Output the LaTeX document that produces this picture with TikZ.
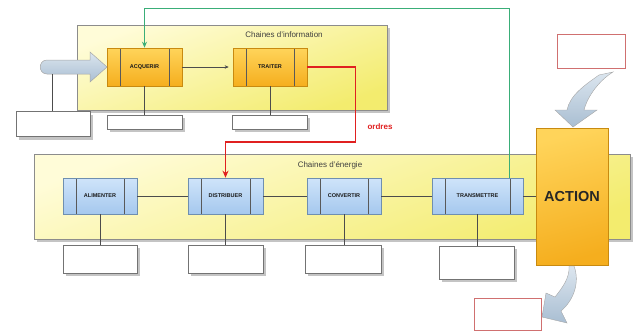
\documentclass[tikz,border=0pt]{standalone}
\usepackage{fontspec}
\setmainfont{Liberation Sans}
\usetikzlibrary{arrows.meta,calc}
\definecolor{chainY1}{HTML}{FFFCD8}
\definecolor{chainY2}{HTML}{F3EC6E}
\definecolor{orA}{HTML}{FFD45A}
\definecolor{orB}{HTML}{F5AE1E}
\definecolor{orD}{HTML}{C88A10}
\definecolor{blA}{HTML}{CFE4FA}
\definecolor{blB}{HTML}{A5C8EE}
\definecolor{blD}{HTML}{6F8FB0}
\definecolor{redC}{HTML}{E02020}
\definecolor{redBox}{HTML}{D07070}
\definecolor{grnC}{HTML}{3AAE78}
\definecolor{arrA}{HTML}{DCE6EF}
\definecolor{arrB}{HTML}{A9BED2}
\definecolor{txtG}{HTML}{404040}
\definecolor{shadC}{HTML}{C4C4C4}
\tikzset{
  shad/.style={preaction={fill=shadC,draw=none,transform canvas={xshift=3pt,yshift=-3pt}}},
  chainbox/.style={draw=black!45,line width=0.7pt,top color=chainY1,bottom color=chainY2,shading angle=20,shad,minimum height=85pt,inner sep=0pt},
  blockbase/.style={line width=0.6pt,minimum height=38pt,inner sep=0pt,font=\fontsize{5.5}{5.5}\selectfont\bfseries,text=black!90,
    path picture={\draw[line width=0.5pt,black!65]
      ([xshift=13pt]path picture bounding box.north west) -- ([xshift=13pt]path picture bounding box.south west)
      ([xshift=-13pt]path picture bounding box.north east) -- ([xshift=-13pt]path picture bounding box.south east);}},
  orblock/.style={blockbase,draw=orD,top color=orA,bottom color=orB},
  blblock/.style={blockbase,draw=blD,top color=blA,bottom color=blB,minimum height=36pt},
  wbox/.style={draw=black!55,line width=0.7pt,fill=white,shad,inner sep=0pt},
  rbox/.style={draw=redBox,line width=0.8pt,fill=white,inner sep=0pt},
  link/.style={draw=black!70,line width=0.6pt},
  bigarrow/.style={draw=black!35,line width=0.5pt,top color=arrA,bottom color=arrB},
  title/.style={font=\fontsize{8}{8}\selectfont,text=txtG}
}
\begin{document}
\begin{tikzpicture}[x=1pt,y=-1pt]
\useasboundingbox (0,0) rectangle (637,332);

% chain frames
\node[chainbox,minimum width=310pt] (info) at (232,67.5) {};
\node[title] (infot) at (284,35) {Chaines d'information};
\node[chainbox,minimum width=596pt] (ener) at (332,196.5) {};
\node[title] (enert) at (330,165) {Chaines d'énergie};

% information blocks
\node[orblock,minimum width=75pt] (acq) at (144.5,67) {ACQUERIR};
\node[orblock,minimum width=74pt] (tra) at (270,67) {TRAITER};

% energy blocks
\node[blblock,minimum width=74pt] (ali) at (100,196) {ALIMENTER};
\node[blblock,minimum width=75pt] (dis) at (225.5,196) {DISTRIBUER};
\node[blblock,minimum width=74pt] (con) at (344,196) {CONVERTIR};
\node[blblock,minimum width=91pt] (trm) at (477.5,196) {TRANSMETTRE};

% action
\node[draw=orD,line width=0.6pt,top color=orA,bottom color=orB,shading angle=15,minimum width=72pt,minimum height=137pt,inner sep=0pt,
  font=\fontsize{14.5}{14.5}\selectfont\bfseries,text=black!85] (act) at (572,196.5) {ACTION};

% white boxes
\node[wbox,minimum width=74pt,minimum height=25pt] (b1) at (53,124) {};
\node[wbox,minimum width=75pt,minimum height=14pt] (b2) at (144.5,122) {};
\node[wbox,minimum width=75pt,minimum height=14pt] (b3) at (269.5,122) {};
\node[wbox,minimum width=74pt,minimum height=28pt] (b4) at (100,259) {};
\node[wbox,minimum width=75pt,minimum height=28pt] (b5) at (225.5,259) {};
\node[wbox,minimum width=76pt,minimum height=28pt] (b6) at (343,259) {};
\node[wbox,minimum width=75pt,minimum height=33pt] (b7) at (476.5,262.5) {};

% red boxes
\node[rbox,minimum width=68pt,minimum height=34pt] (r1) at (591,51) {};
\node[rbox,minimum width=67pt,minimum height=32pt] (r2) at (507.5,314.5) {};

% input arrow
\draw[bigarrow] (47,60) -- (90,60) -- (90,52) -- (107,67) -- (90,82) -- (90,74) -- (47,74)
  .. controls (38,74) and (38,60) .. (47,60) -- cycle;
\coordinate (inA) at (52,74);

% connectors
\draw[link] (inA) -- (inA |- b1.north);
\draw[link] (acq.south) -- (acq.south |- b2.north);
\draw[link] (tra.south) -- (tra.south |- b3.north);
\draw[link] (ali.south) -- (ali.south |- b4.north);
\draw[link] (dis.south) -- (dis.south |- b5.north);
\draw[link] (con.south) -- (con.south |- b6.north);
\draw[link] (trm.south) -- (trm.south |- b7.north);
\draw[link,-{Stealth[length=4pt,width=3.5pt]},shorten >=4pt] (acq.east) -- (tra.west);
\draw[link] (ali.east) -- (dis.west);
\draw[link] (dis.east) -- (con.west);
\draw[link] (con.east) -- (trm.west);
\draw[link] (trm.east) -- (act.west |- trm.east);

% green feedback
\draw[grnC,line width=1pt,-{Stealth[length=6pt,width=5pt]}] ([xshift=-14pt]trm.north east) -- ++(0,-169) -| (acq.north);

% red orders
\draw[redC,line width=1.3pt,-{Stealth[length=7pt,width=6pt]}] (tra.east) -- ++(48,0) -- ++(0,75) -| (dis.north);
\node[font=\fontsize{8}{8}\selectfont\bfseries,text=redC] (ord) at (380,127) {ordres};

% curved arrows
\draw[bigarrow,line width=0.4pt] (599,75) .. controls (585,85) and (570,95) .. (567,110) -- (555,110) -- (573,127)
  -- (597,110) -- (584,110) .. controls (588,95) and (600,80) .. (613,72) -- cycle;
\draw[bigarrow,line width=0.4pt] (569,266) .. controls (570,278) and (562,288) .. (555,297) -- (546,293) -- (542,317)
  -- (567,323) -- (561,311) .. controls (574,300) and (580,282) .. (574,266) -- cycle;
\end{tikzpicture}
\end{document}
